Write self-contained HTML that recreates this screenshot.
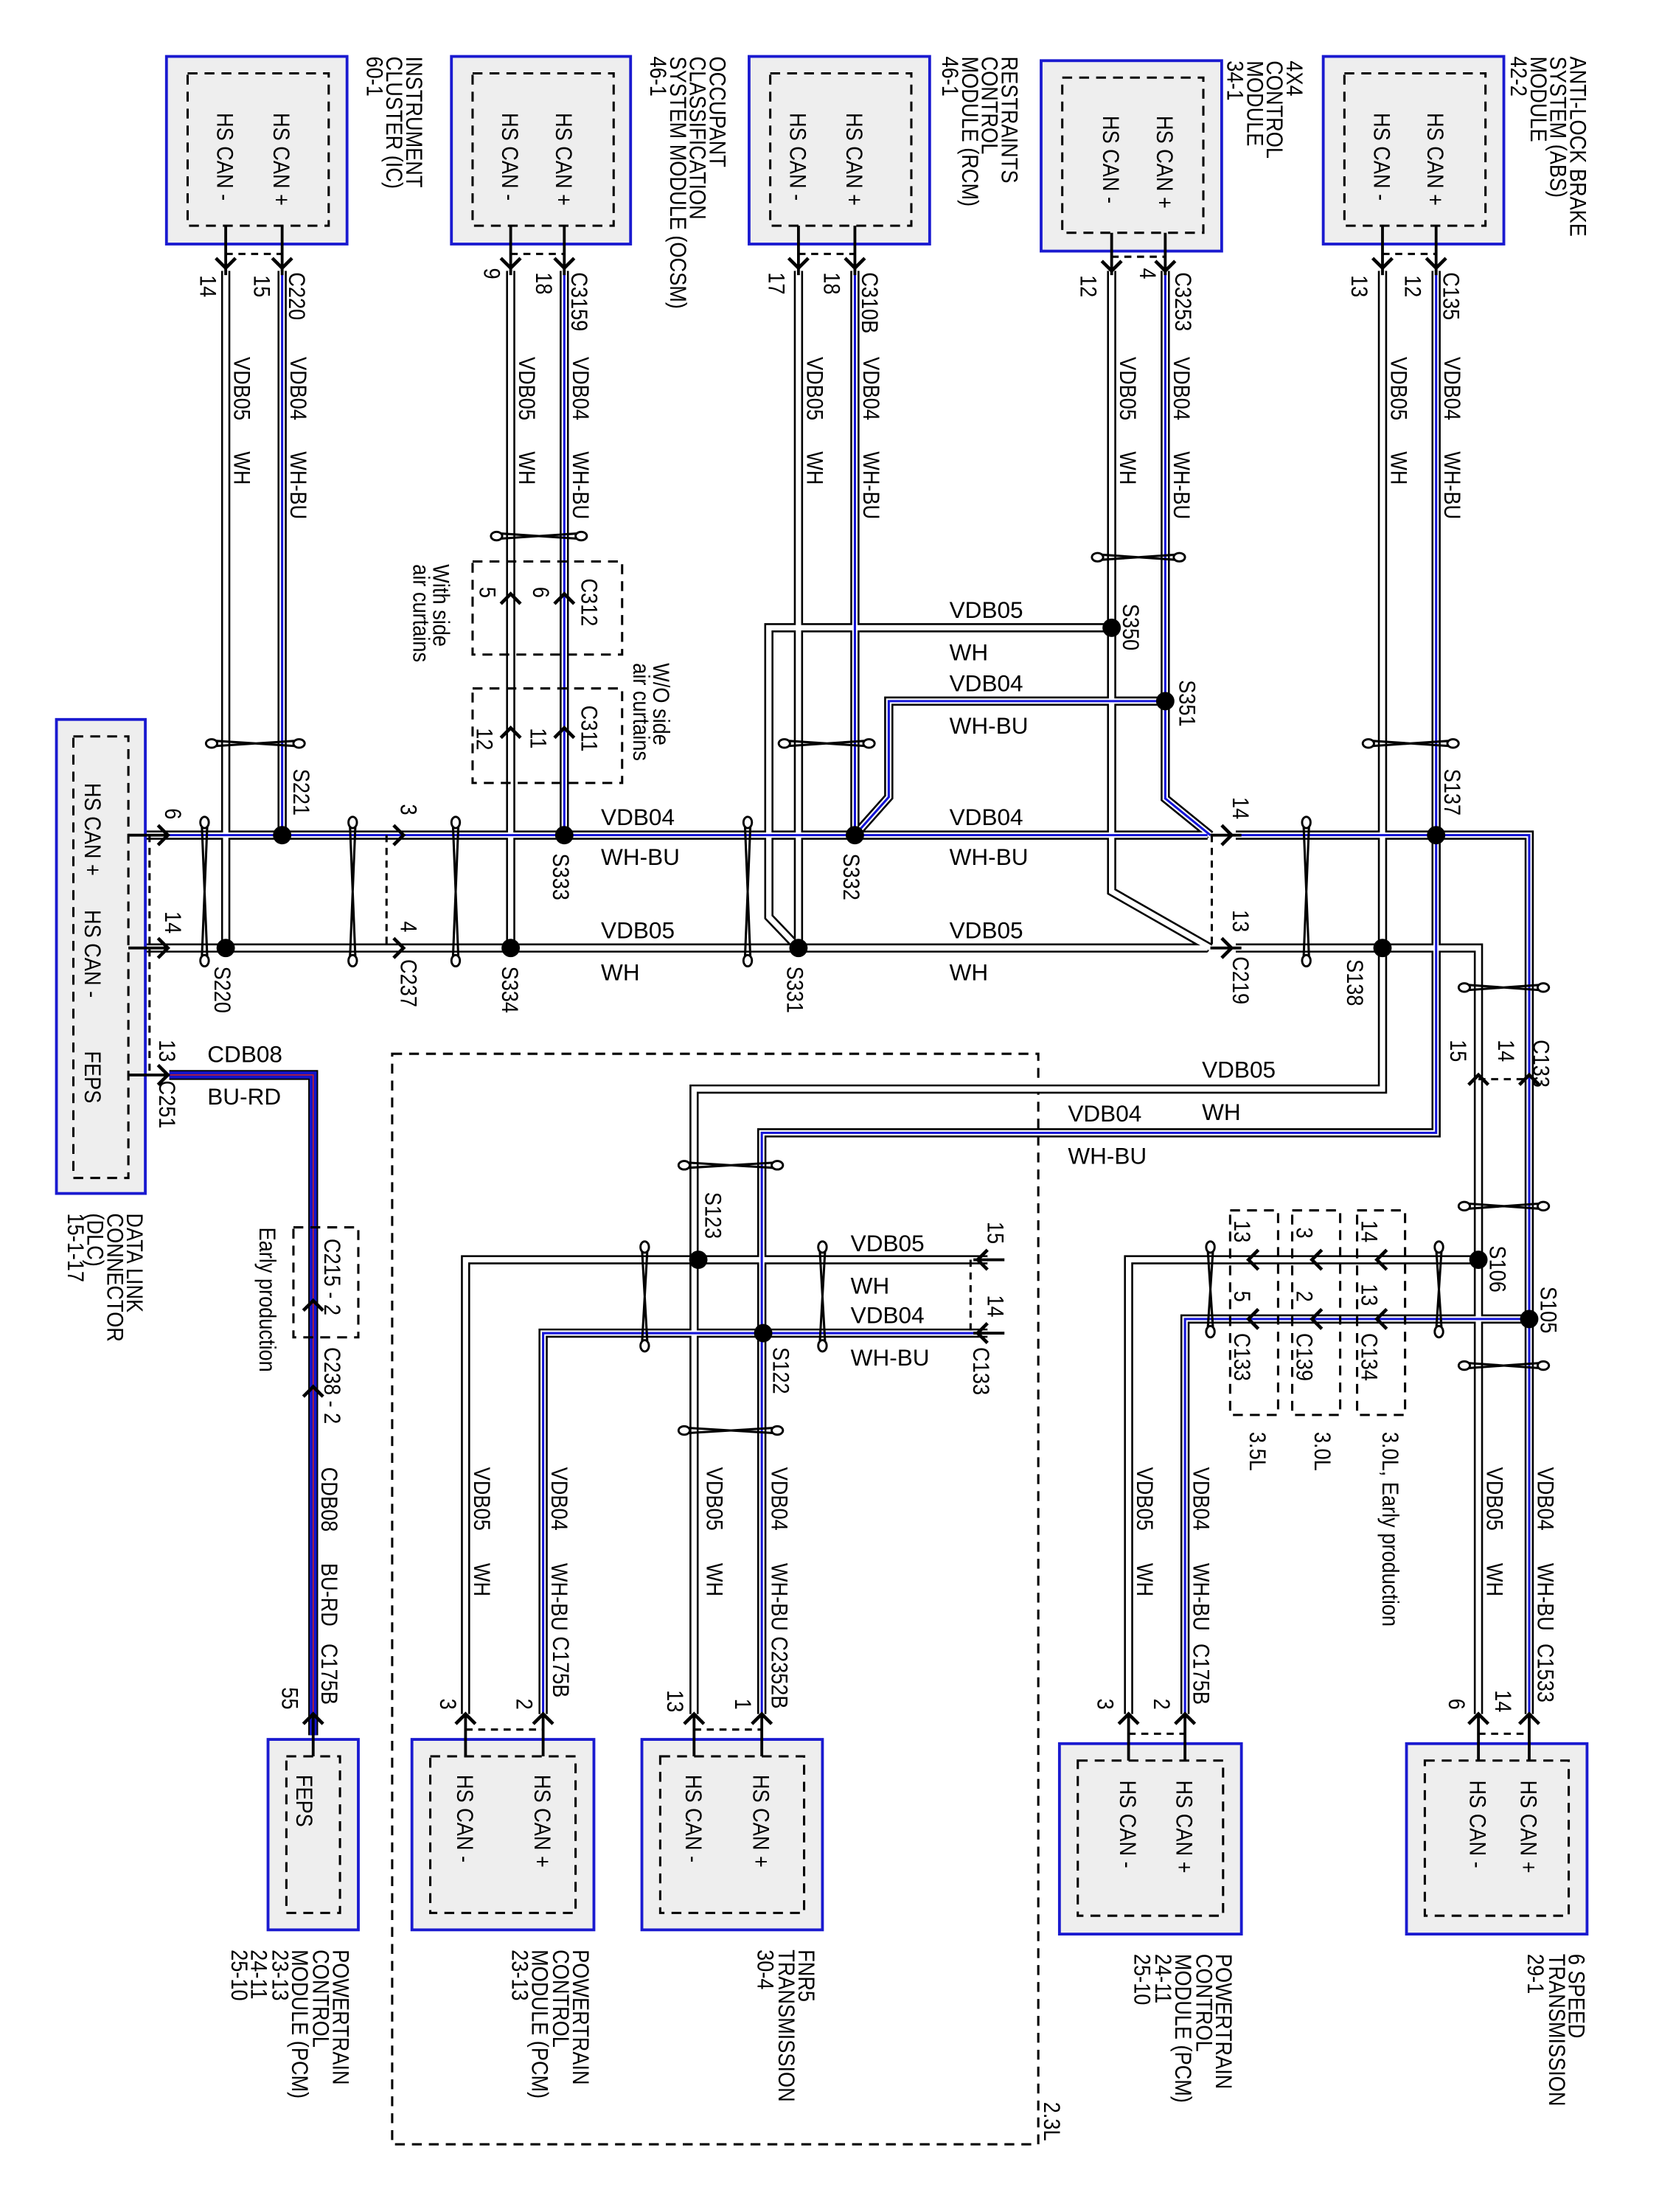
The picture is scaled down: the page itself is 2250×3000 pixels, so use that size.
<!DOCTYPE html>
<html><head><meta charset="utf-8"><style>
html,body{margin:0;padding:0;background:#fff}
svg{display:block}
text{font-family:"Liberation Sans",sans-serif;font-size:16.5px;fill:#000}
.k{stroke:#000;stroke-width:6.5;fill:none}
.w{stroke:#fff;stroke-width:3.8;fill:none}
.b{stroke:#1414d8;stroke-width:1.6;fill:none}
.mod{fill:#eeeeee;stroke:#1a1ad0;stroke-width:2}
.dash{fill:none;stroke:#000;stroke-width:1.6;stroke-dasharray:7 5}
.thin{stroke:#000;stroke-width:2;fill:none}
.arr{stroke:#000;stroke-width:2.4;fill:none}
.tw{stroke:#000;stroke-width:1.6;fill:none}
.twe{stroke:#000;stroke-width:1.5;fill:#fff}
</style></head><body>
<svg width="2250" height="3000" viewBox="0 0 1176 1568" preserveAspectRatio="none" xmlns="http://www.w3.org/2000/svg" xmlns:xlink="http://www.w3.org/1999/xlink">
<defs>
<path id="a1" d="M160,192 V672"/>
<path id="a2" d="M362,192 V672"/>
<path id="a3" d="M566,192 V672"/>
<path id="a4" d="M788,192 V632 L858,672"/>
<path id="a5" d="M100,672 H856"/>
<path id="a6" d="M876,672 H1048 V1215"/>
<path id="a7" d="M980,192 V772 H492 V1215"/>
<path id="a8" d="M788,445 H545 V650 L566,672"/>
<path id="a9" d="M700,893 H330 V1215"/>
<path id="a10" d="M1048,893 H800 V1215"/>
<path id="b1" d="M200,192 V592"/>
<path id="b2" d="M400,192 V592"/>
<path id="b3" d="M606,192 V592"/>
<path id="b4" d="M826,192 V566 L858,592"/>
<path id="b5" d="M100,592 H856"/>
<path id="b6" d="M876,592 H1084 V1215"/>
<path id="b7" d="M1018,192 V803 H540 V1215"/>
<path id="b8" d="M826,497 H630 V565 L606,592"/>
<path id="b9" d="M700,945 H385 V1215"/>
<path id="b10" d="M1084,935 H840 V1215"/>
</defs>

<rect x="278" y="747" width="458" height="773" class="dash"/>
<text transform="translate(740,1490) rotate(90) scale(.86 1)">2.3L</text>

<g class="k">
<use xlink:href="#a1"/><use xlink:href="#a2"/><use xlink:href="#a3"/><use xlink:href="#a4"/><use xlink:href="#a5"/><use xlink:href="#a6"/><use xlink:href="#a7"/><use xlink:href="#a8"/><use xlink:href="#a9"/><use xlink:href="#a10"/>
<use xlink:href="#b1"/><use xlink:href="#b2"/><use xlink:href="#b3"/><use xlink:href="#b4"/><use xlink:href="#b5"/><use xlink:href="#b6"/><use xlink:href="#b7"/><use xlink:href="#b8"/><use xlink:href="#b9"/><use xlink:href="#b10"/>
</g>
<g class="w">
<use xlink:href="#a1"/><use xlink:href="#a2"/><use xlink:href="#a3"/><use xlink:href="#a4"/><use xlink:href="#a5"/><use xlink:href="#a6"/><use xlink:href="#a7"/><use xlink:href="#a8"/><use xlink:href="#a9"/><use xlink:href="#a10"/>
<use xlink:href="#b1"/><use xlink:href="#b2"/><use xlink:href="#b3"/><use xlink:href="#b4"/><use xlink:href="#b5"/><use xlink:href="#b6"/><use xlink:href="#b7"/><use xlink:href="#b8"/><use xlink:href="#b9"/><use xlink:href="#b10"/>
</g>
<g class="b">
<use xlink:href="#b1"/><use xlink:href="#b2"/><use xlink:href="#b3"/><use xlink:href="#b4"/><use xlink:href="#b5"/><use xlink:href="#b6"/><use xlink:href="#b7"/><use xlink:href="#b8"/><use xlink:href="#b9"/><use xlink:href="#b10"/>
</g>
<path d="M120,762 H222 V1230" stroke="#000" stroke-width="7" fill="none"/>
<path d="M120,762 H222 V1230" stroke="#1414c8" stroke-width="5" fill="none"/>
<path d="M120,762 H222 V1230" stroke="#d02020" stroke-width="0.8" fill="none"/>

<g>
<rect x="118" y="40" width="128" height="133" class="mod"/><rect x="133" y="52" width="100" height="108" class="dash"/>
<rect x="320" y="40" width="127" height="133" class="mod"/><rect x="335" y="52" width="100" height="108" class="dash"/>
<rect x="531" y="40" width="128" height="133" class="mod"/><rect x="546" y="52" width="100" height="108" class="dash"/>
<rect x="738" y="43" width="128" height="135" class="mod"/><rect x="753" y="55" width="100" height="110" class="dash"/>
<rect x="938" y="40" width="128" height="133" class="mod"/><rect x="953" y="52" width="100" height="108" class="dash"/>
</g>
<g>
<text transform="translate(154,80) rotate(90) scale(.86 1)">HS CAN -</text>
<text transform="translate(194,80) rotate(90) scale(.86 1)">HS CAN +</text>
<text transform="translate(356,80) rotate(90) scale(.86 1)">HS CAN -</text>
<text transform="translate(394,80) rotate(90) scale(.86 1)">HS CAN +</text>
<text transform="translate(560,80) rotate(90) scale(.86 1)">HS CAN -</text>
<text transform="translate(600,80) rotate(90) scale(.86 1)">HS CAN +</text>
<text transform="translate(782,82) rotate(90) scale(.86 1)">HS CAN -</text>
<text transform="translate(820,82) rotate(90) scale(.86 1)">HS CAN +</text>
<text transform="translate(974,80) rotate(90) scale(.86 1)">HS CAN -</text>
<text transform="translate(1012,80) rotate(90) scale(.86 1)">HS CAN +</text>
</g>
<g>
<text transform="translate(288,40) rotate(90) scale(.86 1)">INSTRUMENT</text>
<text transform="translate(274,40) rotate(90) scale(.86 1)">CLUSTER (IC)</text>
<text transform="translate(260,40) rotate(90) scale(.86 1)">60-1</text>
<text transform="translate(503,40) rotate(90) scale(.86 1)">OCCUPANT</text>
<text transform="translate(489,40) rotate(90) scale(.86 1)">CLASSIFICATION</text>
<text transform="translate(475,40) rotate(90) scale(.86 1)">SYSTEM MODULE (OCSM)</text>
<text transform="translate(461,40) rotate(90) scale(.86 1)">46-1</text>
<text transform="translate(710,40) rotate(90) scale(.86 1)">RESTRAINTS</text>
<text transform="translate(696,40) rotate(90) scale(.86 1)">CONTROL</text>
<text transform="translate(682,40) rotate(90) scale(.86 1)">MODULE (RCM)</text>
<text transform="translate(668,40) rotate(90) scale(.86 1)">46-1</text>
<text transform="translate(912,43) rotate(90) scale(.86 1)">4X4</text>
<text transform="translate(898,43) rotate(90) scale(.86 1)">CONTROL</text>
<text transform="translate(884,43) rotate(90) scale(.86 1)">MODULE</text>
<text transform="translate(870,43) rotate(90) scale(.86 1)">34-1</text>
<text transform="translate(1113,40) rotate(90) scale(.86 1)">ANTI-LOCK BRAKE</text>
<text transform="translate(1099,40) rotate(90) scale(.86 1)">SYSTEM (ABS)</text>
<text transform="translate(1085,40) rotate(90) scale(.86 1)">MODULE</text>
<text transform="translate(1071,40) rotate(90) scale(.86 1)">42-2</text>
</g>

<g class="thin">
<path d="M160,160 V195 M200,160 V195 M362,160 V195 M400,160 V195 M566,160 V195 M606,160 V195 M788,165 V195 M826,165 V195 M980,160 V195 M1018,160 V195"/>
</g>
<g class="arr">
<path d="M153,183 L160,190 L167,183 M193,183 L200,190 L207,183 M355,183 L362,190 L369,183 M393,183 L400,190 L407,183 M559,183 L566,190 L573,183 M599,183 L606,190 L613,183 M781,185 L788,192 L795,185 M819,185 L826,192 L833,185 M973,183 L980,190 L987,183 M1011,183 L1018,190 L1025,183"/>
</g>
<g class="dash" style="stroke-dasharray:5 4">
<path d="M160,180 H200 M362,180 H400 M566,180 H606 M788,182 H826 M980,180 H1018"/>
</g>
<g>
<text transform="translate(142,195) rotate(90) scale(.86 1)">14</text>
<text transform="translate(180,195) rotate(90) scale(.86 1)">15</text>
<text transform="translate(205,193) rotate(90) scale(.86 1)">C220</text>
<text transform="translate(343,190) rotate(90) scale(.86 1)">9</text>
<text transform="translate(380,193) rotate(90) scale(.86 1)">18</text>
<text transform="translate(405,193) rotate(90) scale(.86 1)">C3159</text>
<text transform="translate(545,193) rotate(90) scale(.86 1)">17</text>
<text transform="translate(584,193) rotate(90) scale(.86 1)">18</text>
<text transform="translate(611,193) rotate(90) scale(.86 1)">C310B</text>
<text transform="translate(766,195) rotate(90) scale(.86 1)">12</text>
<text transform="translate(808,190) rotate(90) scale(.86 1)">4</text>
<text transform="translate(833,193) rotate(90) scale(.86 1)">C3253</text>
<text transform="translate(958,195) rotate(90) scale(.86 1)">13</text>
<text transform="translate(996,195) rotate(90) scale(.86 1)">12</text>
<text transform="translate(1023,193) rotate(90) scale(.86 1)">C135</text>
</g>
<g>
<text transform="translate(166,253) rotate(90) scale(.86 1)">VDB05</text><text transform="translate(166,320) rotate(90) scale(.86 1)">WH</text>
<text transform="translate(206,253) rotate(90) scale(.86 1)">VDB04</text><text transform="translate(206,320) rotate(90) scale(.86 1)">WH-BU</text>
<text transform="translate(368,253) rotate(90) scale(.86 1)">VDB05</text><text transform="translate(368,320) rotate(90) scale(.86 1)">WH</text>
<text transform="translate(406,253) rotate(90) scale(.86 1)">VDB04</text><text transform="translate(406,320) rotate(90) scale(.86 1)">WH-BU</text>
<text transform="translate(572,253) rotate(90) scale(.86 1)">VDB05</text><text transform="translate(572,320) rotate(90) scale(.86 1)">WH</text>
<text transform="translate(612,253) rotate(90) scale(.86 1)">VDB04</text><text transform="translate(612,320) rotate(90) scale(.86 1)">WH-BU</text>
<text transform="translate(794,253) rotate(90) scale(.86 1)">VDB05</text><text transform="translate(794,320) rotate(90) scale(.86 1)">WH</text>
<text transform="translate(832,253) rotate(90) scale(.86 1)">VDB04</text><text transform="translate(832,320) rotate(90) scale(.86 1)">WH-BU</text>
<text transform="translate(986,253) rotate(90) scale(.86 1)">VDB05</text><text transform="translate(986,320) rotate(90) scale(.86 1)">WH</text>
<text transform="translate(1024,253) rotate(90) scale(.86 1)">VDB04</text><text transform="translate(1024,320) rotate(90) scale(.86 1)">WH-BU</text>
<text transform="translate(336,1040) rotate(90) scale(.86 1)">VDB05</text><text transform="translate(336,1108) rotate(90) scale(.86 1)">WH</text>
<text transform="translate(391,1040) rotate(90) scale(.86 1)">VDB04</text><text transform="translate(391,1108) rotate(90) scale(.86 1)">WH-BU</text>
<text transform="translate(392,1160) rotate(90) scale(.86 1)">C175B</text>
<text transform="translate(501,1040) rotate(90) scale(.86 1)">VDB05</text><text transform="translate(501,1108) rotate(90) scale(.86 1)">WH</text>
<text transform="translate(547,1040) rotate(90) scale(.86 1)">VDB04</text><text transform="translate(547,1108) rotate(90) scale(.86 1)">WH-BU</text>
<text transform="translate(547,1160) rotate(90) scale(.86 1)">C2352B</text>
<text transform="translate(806,1040) rotate(90) scale(.86 1)">VDB05</text><text transform="translate(806,1108) rotate(90) scale(.86 1)">WH</text>
<text transform="translate(846,1040) rotate(90) scale(.86 1)">VDB04</text><text transform="translate(846,1108) rotate(90) scale(.86 1)">WH-BU</text>
<text transform="translate(846,1165) rotate(90) scale(.86 1)">C175B</text>
<text transform="translate(1054,1040) rotate(90) scale(.86 1)">VDB05</text><text transform="translate(1054,1108) rotate(90) scale(.86 1)">WH</text>
<text transform="translate(1090,1040) rotate(90) scale(.86 1)">VDB04</text><text transform="translate(1090,1108) rotate(90) scale(.86 1)">WH-BU</text>
<text transform="translate(1090,1165) rotate(90) scale(.86 1)">C1533</text>
<text transform="translate(228,1040) rotate(90) scale(.86 1)">CDB08</text><text transform="translate(228,1108) rotate(90) scale(.86 1)">BU-RD</text>
<text transform="translate(228,1165) rotate(90) scale(.86 1)">C175B</text>
</g>
<g>
<text x="426" y="585">VDB04</text><text x="426" y="613">WH-BU</text>
<text x="426" y="665">VDB05</text><text x="426" y="695">WH</text>
<text x="673" y="585">VDB04</text><text x="673" y="613">WH-BU</text>
<text x="673" y="665">VDB05</text><text x="673" y="695">WH</text>
<text x="673" y="438">VDB05</text><text x="673" y="468">WH</text>
<text x="673" y="490">VDB04</text><text x="673" y="520">WH-BU</text>
<text x="852" y="764">VDB05</text><text x="852" y="794">WH</text>
<text x="757" y="795">VDB04</text><text x="757" y="825">WH-BU</text>
<text x="603" y="887">VDB05</text><text x="603" y="917">WH</text>
<text x="603" y="938">VDB04</text><text x="603" y="968">WH-BU</text>
<text x="147" y="753">CDB08</text><text x="147" y="783">BU-RD</text>
</g>

<g fill="#000">
<circle cx="200" cy="592" r="6.5"/><circle cx="160" cy="672" r="6.5"/>
<circle cx="400" cy="592" r="6.5"/><circle cx="362" cy="672" r="6.5"/>
<circle cx="606" cy="592" r="6.5"/><circle cx="566" cy="672" r="6.5"/>
<circle cx="788" cy="445" r="6.5"/><circle cx="826" cy="497" r="6.5"/>
<circle cx="1018" cy="592" r="6.5"/><circle cx="980" cy="672" r="6.5"/>
<circle cx="495" cy="893" r="6.5"/><circle cx="541" cy="945" r="6.5"/>
<circle cx="1048" cy="893" r="6.5"/><circle cx="1084" cy="935" r="6.5"/>
</g>
<g>
<text transform="translate(208,545) rotate(90) scale(.86 1)">S221</text>
<text transform="translate(152,685) rotate(90) scale(.86 1)">S220</text>
<text transform="translate(392,605) rotate(90) scale(.86 1)">S333</text>
<text transform="translate(356,685) rotate(90) scale(.86 1)">S334</text>
<text transform="translate(598,605) rotate(90) scale(.86 1)">S332</text>
<text transform="translate(558,685) rotate(90) scale(.86 1)">S331</text>
<text transform="translate(796,428) rotate(90) scale(.86 1)">S350</text>
<text transform="translate(836,482) rotate(90) scale(.86 1)">S351</text>
<text transform="translate(1024,545) rotate(90) scale(.86 1)">S137</text>
<text transform="translate(955,680) rotate(90) scale(.86 1)">S138</text>
<text transform="translate(500,845) rotate(90) scale(.86 1)">S123</text>
<text transform="translate(548,955) rotate(90) scale(.86 1)">S122</text>
<text transform="translate(1056,883) rotate(90) scale(.86 1)">S106</text>
<text transform="translate(1092,912) rotate(90) scale(.86 1)">S105</text>
</g>

<rect x="40" y="510" width="63" height="336" class="mod"/>
<rect x="52" y="522" width="39" height="313" class="dash"/>
<text transform="translate(60,555) rotate(90) scale(.86 1)">HS CAN +</text>
<text transform="translate(60,645) rotate(90) scale(.86 1)">HS CAN -</text>
<text transform="translate(60,745) rotate(90) scale(.86 1)">FEPS</text>
<text transform="translate(90,860) rotate(90) scale(.86 1)">DATA LINK</text>
<text transform="translate(76,860) rotate(90) scale(.86 1)">CONNECTOR</text>
<text transform="translate(62,860) rotate(90) scale(.86 1)">(DLC)</text>
<text transform="translate(48,860) rotate(90) scale(.86 1)">15-1-17</text>
<g class="thin"><path d="M91,592 H118 M91,672 H118 M91,762 H120"/></g>
<path d="M106,592 V762" class="dash" style="stroke-dasharray:5 4"/>
<g class="arr"><path d="M112,585 L119,592 L112,599 M112,665 L119,672 L112,679 M112,755 L119,762 L112,769"/></g>
<text transform="translate(117,573) rotate(90) scale(.86 1)">6</text>
<text transform="translate(117,646) rotate(90) scale(.86 1)">14</text>
<text transform="translate(113,737) rotate(90) scale(.86 1)">13</text>
<text transform="translate(113,766) rotate(90) scale(.86 1)">C251</text>

<path d="M274,592 V672" class="dash" style="stroke-dasharray:5 4"/>
<g class="arr"><path d="M279,585 L286,592 L279,599 M279,665 L286,672 L279,679"/></g>
<text transform="translate(284,570) rotate(90) scale(.86 1)">3</text>
<text transform="translate(284,653) rotate(90) scale(.86 1)">4</text>
<text transform="translate(284,680) rotate(90) scale(.86 1)">C237</text>
<path d="M859,592 V672" class="dash" style="stroke-dasharray:5 4"/>
<g class="thin"><path d="M858,592 H880 M858,672 H880"/></g>
<g class="arr"><path d="M866,585 L873,592 L866,599 M866,665 L873,672 L866,679"/></g>
<text transform="translate(874,565) rotate(90) scale(.86 1)">14</text>
<text transform="translate(874,645) rotate(90) scale(.86 1)">13</text>
<text transform="translate(874,678) rotate(90) scale(.86 1)">C219</text>

<rect x="335" y="398" width="106" height="66" class="dash"/>
<rect x="335" y="488" width="106" height="67" class="dash"/>
<g class="arr"><path d="M355,428 L362,421 L369,428 M393,428 L400,421 L407,428 M355,523 L362,516 L369,523 M393,523 L400,516 L407,523"/></g>
<text transform="translate(412,410) rotate(90) scale(.86 1)">C312</text>
<text transform="translate(378,416) rotate(90) scale(.86 1)">6</text>
<text transform="translate(340,416) rotate(90) scale(.86 1)">5</text>
<text transform="translate(412,500) rotate(90) scale(.86 1)">C311</text>
<text transform="translate(376,516) rotate(90) scale(.86 1)">11</text>
<text transform="translate(338,516) rotate(90) scale(.86 1)">12</text>
<text transform="translate(307,400) rotate(90) scale(.86 1)">With side</text>
<text transform="translate(293,400) rotate(90) scale(.86 1)">air curtains</text>
<text transform="translate(463,470) rotate(90) scale(.86 1)">W/O side</text>
<text transform="translate(449,470) rotate(90) scale(.86 1)">air curtains</text>

<g class="arr"><path d="M1041,769 L1048,762 L1055,769 M1077,769 L1084,762 L1091,769"/></g>
<path d="M1048,765 H1084" class="dash" style="stroke-dasharray:5 4"/>
<text transform="translate(1028,737) rotate(90) scale(.86 1)">15</text>
<text transform="translate(1062,737) rotate(90) scale(.86 1)">14</text>
<text transform="translate(1087,737) rotate(90) scale(.86 1)">C133</text>
<path d="M688,893 V945" class="dash" style="stroke-dasharray:5 4"/>
<g class="thin"><path d="M690,893 H712 M690,945 H712"/></g>
<g class="arr"><path d="M700,886 L693,893 L700,900 M700,938 L693,945 L700,952"/></g>
<text transform="translate(700,866) rotate(90) scale(.86 1)">15</text>
<text transform="translate(700,918) rotate(90) scale(.86 1)">14</text>
<text transform="translate(690,955) rotate(90) scale(.86 1)">C133</text>

<rect x="872" y="858" width="34" height="145" class="dash"/>
<rect x="916" y="858" width="34" height="145" class="dash"/>
<rect x="962" y="858" width="34" height="145" class="dash"/>
<g class="arr"><path d="M892,886 L885,893 L892,900 M892,928 L885,935 L892,942 M937,886 L930,893 L937,900 M937,928 L930,935 L937,942 M983,886 L976,893 L983,900 M983,928 L976,935 L983,942"/></g>
<text transform="translate(875,865) rotate(90) scale(.86 1)">13</text>
<text transform="translate(875,915) rotate(90) scale(.86 1)">5</text>
<text transform="translate(875,945) rotate(90) scale(.86 1)">C133</text>
<text transform="translate(919,870) rotate(90) scale(.86 1)">3</text>
<text transform="translate(919,915) rotate(90) scale(.86 1)">2</text>
<text transform="translate(919,945) rotate(90) scale(.86 1)">C139</text>
<text transform="translate(965,865) rotate(90) scale(.86 1)">14</text>
<text transform="translate(965,910) rotate(90) scale(.86 1)">13</text>
<text transform="translate(965,945) rotate(90) scale(.86 1)">C134</text>
<text transform="translate(886,1015) rotate(90) scale(.86 1)">3.5L</text>
<text transform="translate(932,1015) rotate(90) scale(.86 1)">3.0L</text>
<text transform="translate(980,1015) rotate(90) scale(.86 1)">3.0L, Early production</text>

<rect x="208" y="870" width="46" height="78" class="dash"/>
<g class="arr"><path d="M215,929 L222,922 L229,929 M215,990 L222,983 L229,990"/></g>
<text transform="translate(230,878) rotate(90) scale(.86 1)">C215 - 2</text>
<text transform="translate(230,955) rotate(90) scale(.86 1)">C238 - 2</text>
<text transform="translate(184,870) rotate(90) scale(.86 1)">Early production</text>

<rect x="190" y="1233" width="64" height="135" class="mod"/><rect x="203" y="1245" width="38" height="111" class="dash"/>
<rect x="292" y="1233" width="129" height="135" class="mod"/><rect x="305" y="1245" width="103" height="111" class="dash"/>
<rect x="455" y="1233" width="128" height="135" class="mod"/><rect x="468" y="1245" width="102" height="111" class="dash"/>
<rect x="751" y="1236" width="129" height="135" class="mod"/><rect x="764" y="1248" width="103" height="110" class="dash"/>
<rect x="997" y="1236" width="128" height="135" class="mod"/><rect x="1010" y="1248" width="102" height="110" class="dash"/>
<g class="thin"><path d="M222,1215 V1245 M330,1215 V1245 M385,1215 V1245 M492,1215 V1245 M540,1215 V1245 M800,1215 V1248 M840,1215 V1248 M1048,1215 V1248 M1084,1215 V1248"/></g>
<g class="arr"><path d="M215,1222 L222,1215 L229,1222 M323,1222 L330,1215 L337,1222 M378,1222 L385,1215 L392,1222 M485,1222 L492,1215 L499,1222 M533,1222 L540,1215 L547,1222 M793,1222 L800,1215 L807,1222 M833,1222 L840,1215 L847,1222 M1041,1222 L1048,1215 L1055,1222 M1077,1222 L1084,1215 L1091,1222"/></g>
<g class="dash" style="stroke-dasharray:5 4"><path d="M330,1226 H385 M492,1226 H540 M800,1229 H840 M1048,1229 H1084"/></g>
<text transform="translate(210,1258) rotate(90) scale(.86 1)">FEPS</text>
<text transform="translate(324,1258) rotate(90) scale(.86 1)">HS CAN -</text>
<text transform="translate(379,1258) rotate(90) scale(.86 1)">HS CAN +</text>
<text transform="translate(486,1258) rotate(90) scale(.86 1)">HS CAN -</text>
<text transform="translate(534,1258) rotate(90) scale(.86 1)">HS CAN +</text>
<text transform="translate(794,1262) rotate(90) scale(.86 1)">HS CAN -</text>
<text transform="translate(834,1262) rotate(90) scale(.86 1)">HS CAN +</text>
<text transform="translate(1042,1262) rotate(90) scale(.86 1)">HS CAN -</text>
<text transform="translate(1078,1262) rotate(90) scale(.86 1)">HS CAN +</text>
<text transform="translate(200,1196) rotate(90) scale(.86 1)">55</text>
<text transform="translate(312,1204) rotate(90) scale(.86 1)">3</text>
<text transform="translate(366,1204) rotate(90) scale(.86 1)">2</text>
<text transform="translate(473,1198) rotate(90) scale(.86 1)">13</text>
<text transform="translate(521,1204) rotate(90) scale(.86 1)">1</text>
<text transform="translate(778,1204) rotate(90) scale(.86 1)">3</text>
<text transform="translate(818,1204) rotate(90) scale(.86 1)">2</text>
<text transform="translate(1027,1204) rotate(90) scale(.86 1)">6</text>
<text transform="translate(1060,1198) rotate(90) scale(.86 1)">14</text>
<text transform="translate(236,1382) rotate(90) scale(.86 1)">POWERTRAIN</text>
<text transform="translate(222,1382) rotate(90) scale(.86 1)">CONTROL</text>
<text transform="translate(207,1382) rotate(90) scale(.86 1)">MODULE (PCM)</text>
<text transform="translate(193,1382) rotate(90) scale(.86 1)">23-13</text>
<text transform="translate(178,1382) rotate(90) scale(.86 1)">24-11</text>
<text transform="translate(164,1382) rotate(90) scale(.86 1)">25-10</text>
<text transform="translate(406,1382) rotate(90) scale(.86 1)">POWERTRAIN</text>
<text transform="translate(392,1382) rotate(90) scale(.86 1)">CONTROL</text>
<text transform="translate(377,1382) rotate(90) scale(.86 1)">MODULE (PCM)</text>
<text transform="translate(363,1382) rotate(90) scale(.86 1)">23-13</text>
<text transform="translate(566,1382) rotate(90) scale(.86 1)">FNR5</text>
<text transform="translate(552,1382) rotate(90) scale(.86 1)">TRANSMISSION</text>
<text transform="translate(537,1382) rotate(90) scale(.86 1)">30-4</text>
<text transform="translate(862,1385) rotate(90) scale(.86 1)">POWERTRAIN</text>
<text transform="translate(848,1385) rotate(90) scale(.86 1)">CONTROL</text>
<text transform="translate(833,1385) rotate(90) scale(.86 1)">MODULE (PCM)</text>
<text transform="translate(819,1385) rotate(90) scale(.86 1)">24-11</text>
<text transform="translate(804,1385) rotate(90) scale(.86 1)">25-10</text>
<text transform="translate(1112,1385) rotate(90) scale(.86 1)">6 SPEED</text>
<text transform="translate(1098,1385) rotate(90) scale(.86 1)">TRANSMISSION</text>
<text transform="translate(1083,1385) rotate(90) scale(.86 1)">29-1</text>

<g class="tw">
<path d="M150,525 L212,529 M150,529 L212,525"/>
<path d="M352,378 L412,382 M352,382 L412,378"/>
<path d="M556,525 L616,529 M556,529 L616,525"/>
<path d="M778,393 L836,397 M778,397 L836,393"/>
<path d="M970,525 L1030,529 M970,529 L1030,525"/>
<path d="M485,824 L551,828 M485,828 L551,824"/>
<path d="M485,1012 L551,1016 M485,1016 L551,1012"/>
<path d="M1038,698 L1094,702 M1038,702 L1094,698"/>
<path d="M1038,853 L1094,857 M1038,857 L1094,853"/>
<path d="M1038,966 L1094,970 M1038,970 L1094,966"/>
<path d="M143,583 L147,681 M147,583 L143,681"/>
<path d="M248,583 L252,681 M252,583 L248,681"/>
<path d="M321,583 L325,681 M325,583 L321,681"/>
<path d="M528,583 L532,681 M532,583 L528,681"/>
<path d="M924,583 L928,681 M928,583 L924,681"/>
<path d="M455,884 L459,954 M459,884 L455,954"/>
<path d="M581,884 L585,954 M585,884 L581,954"/>
<path d="M1018,884 L1022,944 M1022,884 L1018,944"/>
<path d="M856,884 L860,944 M860,884 L856,944"/>
</g>
<g class="twe">
<ellipse cx="150" cy="527" rx="4" ry="3"/><ellipse cx="212" cy="527" rx="4" ry="3"/>
<ellipse cx="352" cy="380" rx="4" ry="3"/><ellipse cx="412" cy="380" rx="4" ry="3"/>
<ellipse cx="556" cy="527" rx="4" ry="3"/><ellipse cx="616" cy="527" rx="4" ry="3"/>
<ellipse cx="778" cy="395" rx="4" ry="3"/><ellipse cx="836" cy="395" rx="4" ry="3"/>
<ellipse cx="970" cy="527" rx="4" ry="3"/><ellipse cx="1030" cy="527" rx="4" ry="3"/>
<ellipse cx="485" cy="826" rx="4" ry="3"/><ellipse cx="551" cy="826" rx="4" ry="3"/>
<ellipse cx="485" cy="1014" rx="4" ry="3"/><ellipse cx="551" cy="1014" rx="4" ry="3"/>
<ellipse cx="1038" cy="700" rx="4" ry="3"/><ellipse cx="1094" cy="700" rx="4" ry="3"/>
<ellipse cx="1038" cy="855" rx="4" ry="3"/><ellipse cx="1094" cy="855" rx="4" ry="3"/>
<ellipse cx="1038" cy="968" rx="4" ry="3"/><ellipse cx="1094" cy="968" rx="4" ry="3"/>
<ellipse cx="145" cy="583" rx="3" ry="4"/><ellipse cx="145" cy="681" rx="3" ry="4"/>
<ellipse cx="250" cy="583" rx="3" ry="4"/><ellipse cx="250" cy="681" rx="3" ry="4"/>
<ellipse cx="323" cy="583" rx="3" ry="4"/><ellipse cx="323" cy="681" rx="3" ry="4"/>
<ellipse cx="530" cy="583" rx="3" ry="4"/><ellipse cx="530" cy="681" rx="3" ry="4"/>
<ellipse cx="926" cy="583" rx="3" ry="4"/><ellipse cx="926" cy="681" rx="3" ry="4"/>
<ellipse cx="457" cy="884" rx="3" ry="4"/><ellipse cx="457" cy="954" rx="3" ry="4"/>
<ellipse cx="583" cy="884" rx="3" ry="4"/><ellipse cx="583" cy="954" rx="3" ry="4"/>
<ellipse cx="1020" cy="884" rx="3" ry="4"/><ellipse cx="1020" cy="944" rx="3" ry="4"/>
<ellipse cx="858" cy="884" rx="3" ry="4"/><ellipse cx="858" cy="944" rx="3" ry="4"/>
</g>
</svg>
</body></html>
